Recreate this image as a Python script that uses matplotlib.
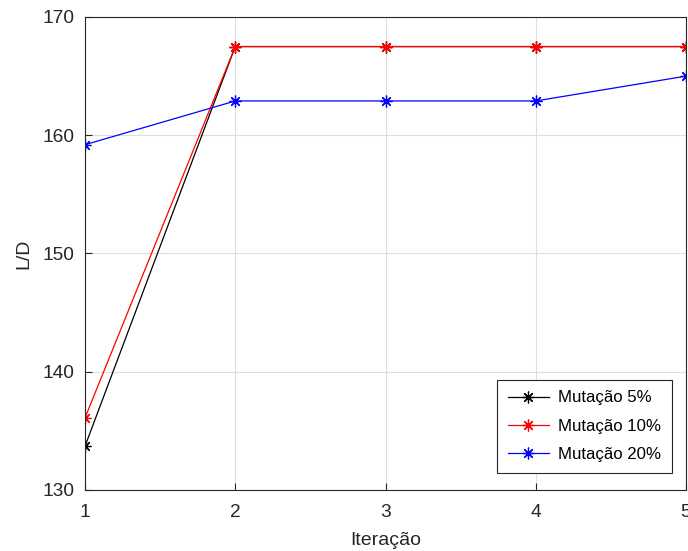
import matplotlib
matplotlib.use("Agg")
import matplotlib.pyplot as plt

iteracao = [1, 2, 3, 4, 5]
mut5 = [133.7, 167.5, 167.5, 167.5, 167.5]
mut10 = [136.1, 167.5, 167.5, 167.5, 167.5]
mut20 = [159.2, 162.9, 162.9, 162.9, 165.0]
labels = ["Mutação 5%", "Mutação 10%", "Mutação 20%"]

plt.rcParams['font.family'] = ['Liberation Sans', 'DejaVu Sans']

fig = plt.figure(figsize=(6.88, 5.51), dpi=100)
ax = fig.add_axes([85/688, 1 - 490/551, (686 - 85)/688, (490 - 17)/551])

star = (8, 2, 0)  # eight-spoke asterisk
common = dict(marker=star, markersize=8.5, markeredgewidth=0.9, linewidth=0.9)
ax.plot(iteracao, mut5, color='k', label=labels[0], **common)
ax.plot(iteracao, mut10, color='r', label=labels[1], **common)
ax.plot(iteracao, mut20, color='b', label=labels[2], **common)

ax.set_xlim(1, 5)
ax.set_ylim(130, 170)
ax.set_xticks([1, 2, 3, 4, 5])
ax.set_yticks([130, 140, 150, 160, 170])
ax.grid(True, color='#dedede', linewidth=0.8)
ax.set_axisbelow(True)
ax.tick_params(direction='in', length=5, width=0.8, colors='#262626', labelsize=13.8)
ax.tick_params(axis='x', pad=10)
ax.tick_params(axis='y', pad=7.5)
for s in ax.spines.values():
    s.set_color('#262626')
    s.set_linewidth(0.8)

ax.set_xlabel('Iteração', fontsize=14, color='#262626', labelpad=8)
ax.set_ylabel('L/D', fontsize=14, color='#262626', labelpad=7)

leg = ax.legend(loc='lower right', bbox_to_anchor=(0.9767, 0.036), borderaxespad=0,
                fontsize=12.1, fancybox=False, framealpha=1, edgecolor='#262626',
                handlelength=2.44, handletextpad=0.54, borderpad=0.65,
                labelspacing=0.79)
leg.get_frame().set_linewidth(0.8)

fig.savefig('out.png', dpi=100)
